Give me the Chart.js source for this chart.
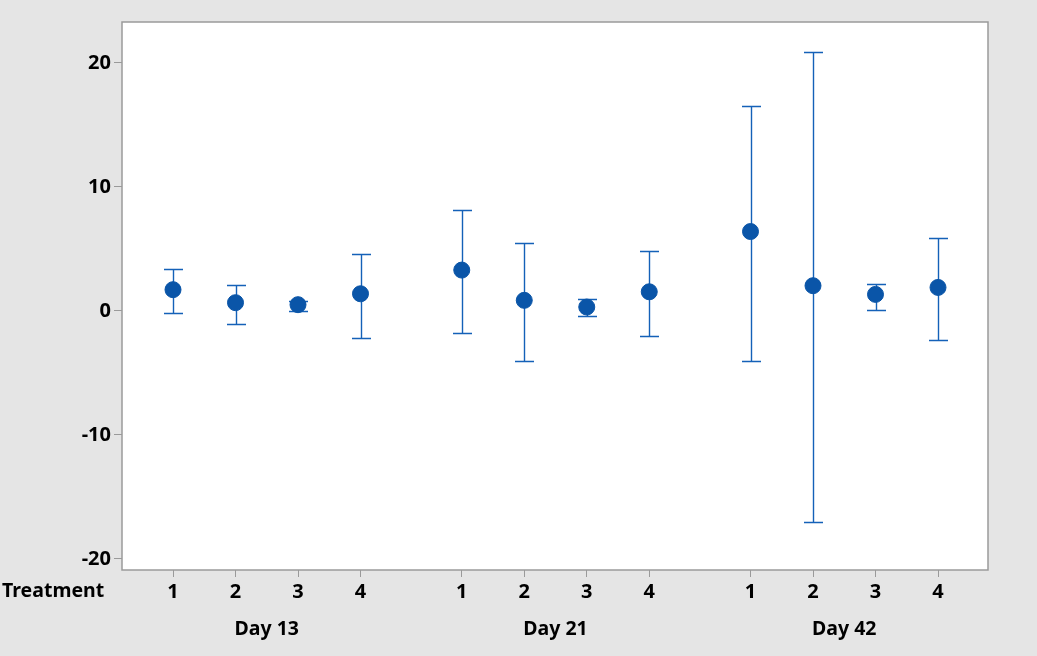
<!DOCTYPE html>
<html>
<head>
<meta charset="utf-8">
<script src="https://cdn.jsdelivr.net/npm/chart.js@4"></script>
<style>
html,body{margin:0;padding:0;background:#e5e5e5;}
#wrap{width:1037px;height:656px;}
</style>
</head>
<body>
<div id="wrap"><canvas id="c" width="1037" height="656"></canvas></div>
<script>
const days = ["Day 13", "Day 21", "Day 42"];
const treatments = ["1", "2", "3", "4"];
const positions = [0, 1, 2, 3, 4.62, 5.62, 6.62, 7.62, 9.24, 10.24, 11.24, 12.24];
const means = [1.71, 0.66, 0.50, 1.38, 3.29, 0.85, 0.31, 1.54, 6.40, 2.03, 1.33, 1.89];
const upper = [3.40, 2.05, 0.82, 4.60, 8.14, 5.49, 0.98, 4.84, 16.50, 20.85, 2.19, 5.89];
const lower = [-0.20, -1.09, -0.01, -2.16, -1.76, -4.01, -0.39, -2.00, -4.01, -17.0, 0.10, -2.32];
const yTicks = [-20, -10, 0, 10, 20];

const BLUE = '#0a55a8';
const LINE = '#1461b8';
const GRAY = '#9a9a9a';
const FONT = '"Noto Sans", "DejaVu Sans", sans-serif';

const points = positions.map((p, i) => ({x: p, y: means[i]}));

const errorBars = {
  id: 'errorBars',
  beforeDatasetsDraw(chart) {
    const ctx = chart.ctx, xs = chart.scales.x, ys = chart.scales.y;
    ctx.save();
    ctx.strokeStyle = LINE;
    ctx.lineWidth = 1.4;
    positions.forEach((p, i) => {
      const px = Math.round(xs.getPixelForValue(p)) + 0.5;
      const pu = Math.round(ys.getPixelForValue(upper[i])) + 0.5;
      const pl = Math.round(ys.getPixelForValue(lower[i])) + 0.5;
      ctx.beginPath();
      ctx.moveTo(px, pu); ctx.lineTo(px, pl);
      ctx.moveTo(px - 9.5, pu); ctx.lineTo(px + 9.5, pu);
      ctx.moveTo(px - 9.5, pl); ctx.lineTo(px + 9.5, pl);
      ctx.stroke();
    });
    ctx.restore();
  }
};

const frame = {
  id: 'frame',
  beforeDraw(chart) {
    const ctx = chart.ctx, a = chart.chartArea;
    ctx.save();
    ctx.fillStyle = '#e5e5e5';
    ctx.fillRect(0, 0, chart.width, chart.height);
    ctx.fillStyle = '#ffffff';
    ctx.fillRect(a.left, a.top, a.right - a.left, a.bottom - a.top);
    ctx.restore();
  },
  afterDraw(chart) {
    const ctx = chart.ctx, a = chart.chartArea, xs = chart.scales.x;
    ctx.save();
    ctx.strokeStyle = GRAY;
    ctx.lineWidth = 1.5;
    ctx.strokeRect(a.left, a.top, a.right - a.left, a.bottom - a.top);
    ctx.fillStyle = '#000';
    ctx.font = 'bold 19.5px ' + FONT;
    ctx.textBaseline = 'middle';
    ctx.textAlign = 'left';
    ctx.fillText('Treatment', 2, 591);
    ctx.textAlign = 'center';
    days.forEach((d, g) => {
      const c = (positions[g * 4] + positions[g * 4 + 3]) / 2;
      ctx.fillText(d, xs.getPixelForValue(c), 629);
    });
    ctx.restore();
  }
};

new Chart(document.getElementById('c'), {
  type: 'scatter',
  data: {
    datasets: [{
      data: points,
      pointStyle: 'circle',
      pointRadius: 8,
      pointHoverRadius: 8,
      backgroundColor: BLUE,
      borderColor: BLUE,
      borderWidth: 1
    }]
  },
  options: {
    responsive: false,
    animation: false,
    devicePixelRatio: 1,
    layout: {padding: {top: 22, right: 49, left: 0, bottom: 0}},
    plugins: {legend: {display: false}, tooltip: {enabled: false}},
    scales: {
      x: {
        type: 'linear',
        min: -0.816,
        max: 13.04,
        afterBuildTicks(scale) { scale.ticks = positions.map(v => ({value: v})); },
        afterFit(scale) { scale.height = 86; },
        ticks: {
          autoSkip: false,
          maxRotation: 0,
          padding: 3,
          color: '#000',
          font: {family: FONT, size: 20, weight: 'bold'},
          callback(v, i) { return treatments[i % 4]; }
        },
        grid: {drawOnChartArea: false, tickLength: 7, color: GRAY, tickColor: GRAY},
        border: {display: false}
      },
      y: {
        min: -20.9,
        max: 23.3,
        afterBuildTicks(scale) { scale.ticks = yTicks.map(v => ({value: v})); },
        afterFit(scale) { scale.width = 122; },
        ticks: {
          padding: 3,
          color: '#000',
          font: {family: FONT, size: 20, weight: 'bold'},
          callback(v) { return String(v); }
        },
        grid: {drawOnChartArea: false, tickLength: 8, color: GRAY, tickColor: GRAY},
        border: {display: false}
      }
    }
  },
  plugins: [frame, errorBars]
});
</script>
</body>
</html>
